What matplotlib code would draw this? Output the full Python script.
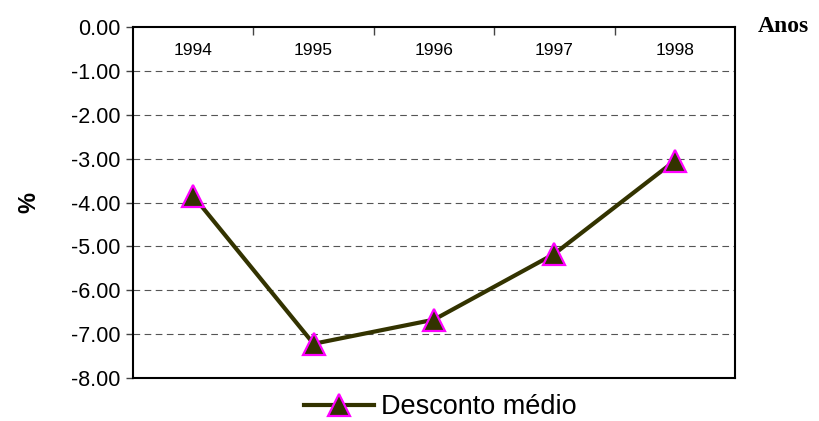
import matplotlib
matplotlib.use("Agg")
import matplotlib.pyplot as plt

# ----------------------------------------------------
# Data
# ----------------------------------------------------
years = ["1994", "1995", "1996", "1997", "1998"]
desconto = [-3.85, -7.22, -6.67, -5.17, -3.05]
y_ticks = [0, -1, -2, -3, -4, -5, -6, -7, -8]

LINE_COLOR = "#333300"
EDGE_COLOR = "#FF00FF"

# ----------------------------------------------------
# Figure
# ----------------------------------------------------
fig = plt.figure(figsize=(8.19, 4.21), dpi=100)
ax = fig.add_axes([0.1624, 0.1021, 0.7350, 0.8338])

x = list(range(1, len(years) + 1))
ax.plot(x, desconto, color=LINE_COLOR, linewidth=3,
        marker="^", markersize=16, markerfacecolor=LINE_COLOR,
        markeredgecolor=EDGE_COLOR, markeredgewidth=1.6,
        label="Desconto médio", zorder=3)

# horizontal dashed grid
for v in y_ticks[1:-1]:
    ax.axhline(v, color="#555555", linewidth=0.8,
               linestyle=(0, (6, 4)), zorder=1)

ax.set_xlim(0.5, len(years) + 0.5)
ax.set_ylim(-8, 0)

# y axis
ax.set_yticks(y_ticks)
ax.set_yticklabels([f"{v:.2f}" for v in y_ticks], fontsize=15.5,
                   family="Liberation Sans")
ax.tick_params(axis="y", direction="out", length=5, width=1,
               color="#444444", pad=4)
ax.set_ylabel("%", fontsize=17, fontweight="bold", family="Liberation Sans",
              labelpad=22)

# x axis on top: boundary ticks pointing in, year labels inside the box
ax.xaxis.tick_top()
ax.set_xticks([i + 0.5 for i in x[:-1]])
ax.set_xticklabels([])
ax.tick_params(axis="x", which="major", direction="in", length=6,
               width=1, color="#444444")
ax.set_xticks(x, minor=True)
ax.set_xticklabels(years, minor=True, fontsize=12.5, family="Liberation Sans")
ax.tick_params(axis="x", which="minor", length=0, pad=-22,
               top=True, labeltop=True, bottom=False, labelbottom=False)

for s in ax.spines.values():
    s.set_linewidth(1.5)
    s.set_color("black")

fig.text(758 / 819, 1 - 27 / 421, "Anos", fontsize=17, fontweight="bold",
         family="Liberation Serif", ha="left", va="center")

fig.legend(loc="center", bbox_to_anchor=(440 / 819, 1 - 407 / 421),
           frameon=False, handlelength=2.6, handletextpad=0.25,
           borderpad=0.1,
           prop={"family": "Liberation Sans", "size": 19.5})

fig.savefig("out.png", dpi=100)
plt.close(fig)
